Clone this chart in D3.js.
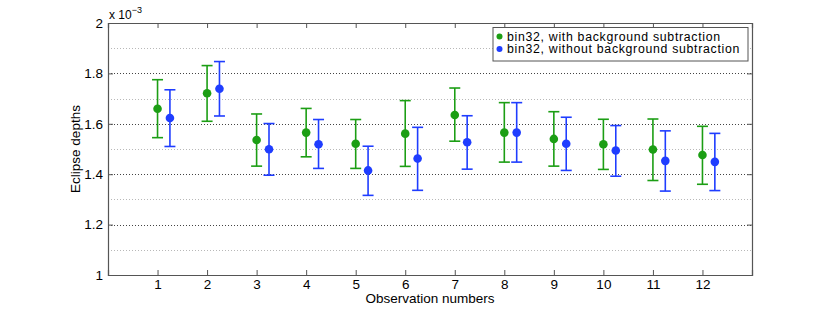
<!DOCTYPE html>
<html>
<head>
<meta charset="utf-8">
<script src="https://cdn.jsdelivr.net/npm/d3@7"></script>
<style>
  body { margin: 0; background: #fff; }
  text { font-family: "Liberation Sans", Arial, sans-serif; fill: #000; }
</style>
</head>
<body>
<div id="chart"></div>
<script>
// observation numbers 1..12, depths in units of 1e-3
const observations = [1, 2, 3, 4, 5, 6, 7, 8, 9, 10, 11, 12];

const withBg = [1.660, 1.721, 1.536, 1.565, 1.521, 1.561, 1.635, 1.565, 1.540, 1.519, 1.498, 1.476];
const withBgHi = [1.775, 1.831, 1.639, 1.661, 1.617, 1.692, 1.742, 1.684, 1.648, 1.618, 1.619, 1.590];
const withBgLo = [1.545, 1.610, 1.432, 1.469, 1.423, 1.431, 1.531, 1.448, 1.432, 1.419, 1.375, 1.360];

const withoutBg = [1.623, 1.739, 1.499, 1.519, 1.415, 1.462, 1.527, 1.565, 1.521, 1.494, 1.453, 1.449];
const withoutBgHi = [1.735, 1.847, 1.601, 1.617, 1.511, 1.586, 1.632, 1.684, 1.626, 1.593, 1.572, 1.562];
const withoutBgLo = [1.510, 1.631, 1.396, 1.423, 1.316, 1.336, 1.420, 1.448, 1.415, 1.392, 1.333, 1.335];

const yTicks = [1, 1.2, 1.4, 1.6, 1.8, 2];
const yMinor = [1.1, 1.3, 1.5, 1.7, 1.9];

const series = [
  { name: "bin32, with background subtraction", color: "#1c9e14", offset: 0,
    v: withBg, hi: withBgHi, lo: withBgLo },
  { name: "bin32, without background subtraction", color: "#1f3dff", offset: 0.25,
    v: withoutBg, hi: withoutBgHi, lo: withoutBgLo }
];

const W = 830, H = 310;
const margin = { top: 23, right: 78, bottom: 35, left: 108 };
const width = W - margin.left - margin.right,
  height = H - margin.top - margin.bottom;
const fs = "13.5px";

const svg = d3.select("#chart").append("svg")
  .attr("width", W).attr("height", H);
const g = svg.append("g")
  .attr("transform", `translate(${margin.left}, ${margin.top})`);

const x = d3.scaleLinear().domain([0, 13]).range([0, width]);
const y = d3.scaleLinear().domain([1, 2]).range([height, 0]);

// grid lines
g.selectAll(".minor").data(yMinor).join("line")
  .attr("x1", 0).attr("x2", width)
  .attr("y1", d => Math.round(y(d)) + 0.5).attr("y2", d => Math.round(y(d)) + 0.5)
  .attr("stroke", "#b8b8b8").attr("stroke-dasharray", "1,2");
g.selectAll(".major").data(yTicks.slice(1, -1)).join("line")
  .attr("x1", 0).attr("x2", width)
  .attr("y1", d => Math.round(y(d)) + 0.5).attr("y2", d => Math.round(y(d)) + 0.5)
  .attr("stroke", "#444").attr("stroke-dasharray", "1,2");

// axes (MATLAB style: ticks inside, box)
const axisL = g.append("g")
  .call(d3.axisLeft(y).tickValues(yTicks).tickSize(-5).tickPadding(5)
    .tickFormat(d => d3.format("")(+d.toFixed(1))));
const axisR = g.append("g").attr("transform", `translate(${width},0)`)
  .call(d3.axisRight(y).tickValues(yTicks).tickSize(-5).tickFormat(""));
const axisB = g.append("g").attr("transform", `translate(0,${height})`)
  .call(d3.axisBottom(x).tickValues(observations).tickSize(-5).tickPadding(4));
const axisT = g.append("g")
  .call(d3.axisTop(x).tickValues(observations).tickSize(-5).tickFormat(""));

[axisL, axisR, axisB, axisT].forEach(a => {
  a.select(".domain").attr("stroke", "#555").attr("stroke-width", 1.2);
  a.selectAll(".tick line").attr("stroke", "#555");
  a.selectAll("text").style("font-size", fs);
});

// error bars + markers
series.forEach(s => {
  const sg = g.append("g");
  const cap = 5.5;
  observations.forEach((o, i) => {
    const cx = x(o + s.offset);
    sg.append("line")
      .attr("x1", cx).attr("x2", cx)
      .attr("y1", y(s.hi[i])).attr("y2", y(s.lo[i]))
      .attr("stroke", s.color).attr("stroke-width", 1.6);
    [s.hi[i], s.lo[i]].forEach(v => {
      sg.append("line")
        .attr("x1", cx - cap).attr("x2", cx + cap)
        .attr("y1", y(v)).attr("y2", y(v))
        .attr("stroke", s.color).attr("stroke-width", 1.6);
    });
  });
  sg.selectAll("circle").data(observations).join("circle")
    .attr("cx", (o) => x(o + s.offset))
    .attr("cy", (o, i) => y(s.v[i]))
    .attr("r", 4.3)
    .attr("fill", s.color);
});

// exponent label
const ex = svg.append("text")
  .attr("x", margin.left + 1).attr("y", 19)
  .style("font-size", "12px");
ex.append("tspan").text("x 10");
ex.append("tspan").attr("dy", -6).style("font-size", "9px").text("−3");

// axis titles
svg.append("text")
  .attr("transform", `translate(80, ${margin.top + height / 2}) rotate(-90)`)
  .attr("text-anchor", "middle")
  .style("font-size", fs)
  .text("Eclipse depths");
svg.append("text")
  .attr("x", margin.left + width / 2).attr("y", 303)
  .attr("text-anchor", "middle")
  .style("font-size", fs)
  .text("Observation numbers");

// legend
const leg = svg.append("g").attr("transform", "translate(493, 27.5)");
leg.append("rect")
  .attr("width", 255).attr("height", 33.5)
  .attr("fill", "#fff").attr("stroke", "#555").attr("stroke-width", 1);
series.forEach((s, i) => {
  const row = leg.append("g").attr("transform", `translate(0, ${9 + i * 12.5})`);
  row.append("circle").attr("cx", 6.5).attr("cy", 0).attr("r", 3).attr("fill", s.color);
  row.append("text").attr("x", 14).attr("y", 4.4)
    .style("font-size", "12.3px").style("letter-spacing", "0.7px").text(s.name);
});
</script>
</body>
</html>
